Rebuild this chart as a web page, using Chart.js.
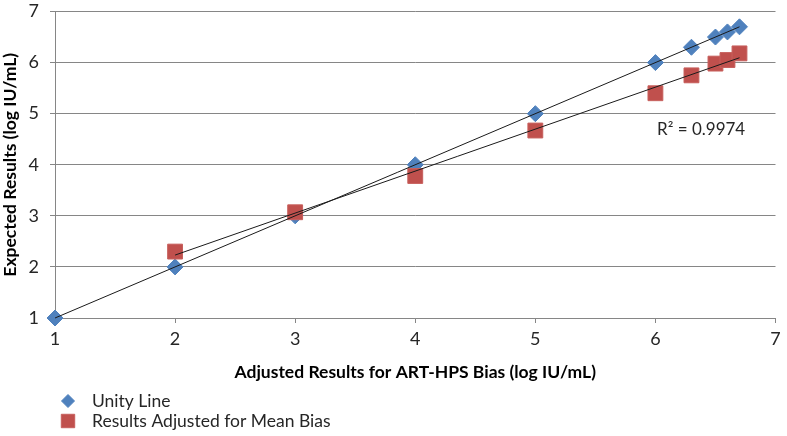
<!DOCTYPE html>
<html><head><meta charset="utf-8">
<script src="https://cdn.jsdelivr.net/npm/chart.js@4/dist/chart.umd.min.js"></script>
<style>html,body{margin:0;padding:0;background:#fff}#wrap{width:787px;height:436px}</style>
</head><body><div id="wrap"><canvas id="c" width="787" height="436"></canvas></div>
<script>
const unityX = [1, 2, 3, 4, 5, 6, 6.3, 6.5, 6.6, 6.7];
const unityY = [1, 2, 3, 4, 5, 6, 6.3, 6.5, 6.6, 6.7];
const biasX = [2, 3, 4, 5, 6, 6.3, 6.5, 6.6, 6.7];
const biasY = [2.3, 3.07, 3.78, 4.67, 5.4, 5.75, 5.98, 6.05, 6.18];
const seriesNames = ["Unity Line", "Results Adjusted for Mean Bias"];
const r2Label = "R² = 0.9974";
const axisTicks = [1, 2, 3, 4, 5, 6, 7];

function fit(xs, ys) {
  const n = xs.length;
  const mx = xs.reduce((a, b) => a + b, 0) / n;
  const my = ys.reduce((a, b) => a + b, 0) / n;
  let sxy = 0, sxx = 0;
  for (let i = 0; i < n; i++) { sxy += (xs[i] - mx) * (ys[i] - my); sxx += (xs[i] - mx) ** 2; }
  const m = sxy / sxx, b = my - m * mx;
  const x0 = Math.min(...xs), x1 = Math.max(...xs);
  return [{x: x0, y: m * x0 + b}, {x: x1, y: m * x1 + b}];
}
const pts = (xs, ys) => xs.map((x, i) => ({x, y: ys[i]}));

const BLUE = "#4F81BD", RED = "#C0504D";
const FONT = "Lato, 'Open Sans', sans-serif";

const legendPlugin = {
  id: "customLegend",
  afterDraw(chart) {
    const ctx = chart.ctx;
    ctx.save();
    ctx.fillStyle = "#262626";
    ctx.font = "17px " + FONT;
    ctx.textBaseline = "middle";
    ctx.textAlign = "left";
    ctx.fillText(r2Label, 657, 130);
    const items = [
      {style: "rectRot", color: BLUE, border: BLUE, r: 6.5, y: 401},
      {style: "rect", color: RED, border: "#C75F5C", r: 9.5, y: 421}
    ];
    items.forEach((it, i) => {
      ctx.fillStyle = it.color; ctx.strokeStyle = it.border; ctx.lineWidth = 1;
      Chart.helpers.drawPoint(ctx, {pointStyle: it.style, radius: it.r, borderWidth: 1, rotation: 0}, 68, it.y);
      ctx.fillStyle = "#262626";
      ctx.font = "17.5px " + FONT;
      ctx.fillText(seriesNames[i], 92, it.y);
    });
    ctx.restore();
  }
};

new Chart(document.getElementById("c"), {
  type: "scatter",
  data: {
    datasets: [
      {label: "trend1", data: fit(unityX, unityY), type: "line", showLine: true, borderColor: "#1a1a1a", borderWidth: 1, pointRadius: 0, order: 0, clip: false},
      {label: "trend2", data: fit(biasX, biasY), type: "line", showLine: true, borderColor: "#1a1a1a", borderWidth: 1, pointRadius: 0, order: 0, clip: false},
      {label: seriesNames[1], data: pts(biasX, biasY), pointStyle: "rect", pointRadius: 10.5, backgroundColor: RED, borderColor: "#C75F5C", borderWidth: 1, order: 1, clip: false},
      {label: seriesNames[0], data: pts(unityX, unityY), pointStyle: "rectRot", pointRadius: 8, backgroundColor: BLUE, borderColor: BLUE, borderWidth: 1, order: 2, clip: false}
    ]
  },
  options: {
    responsive: false,
    animation: false,
    layout: {padding: {top: 6, right: 11, bottom: 53, left: 0}},
    plugins: {legend: {display: false}, tooltip: {enabled: false}},
    scales: {
      x: {
        type: "linear", min: 1, max: 7,
        afterBuildTicks: s => { s.ticks = axisTicks.map(v => ({value: v})); },
        afterFit: s => { s.height = 65; s.paddingRight = 0; s.paddingLeft = 0; },
        grid: {drawOnChartArea: false, drawTicks: true, tickLength: 5, color: "#868686"},
        border: {color: "#868686", width: 1},
        ticks: {font: {family: FONT, size: 18}, color: "#262626", padding: 5},
        title: {display: true, text: "Adjusted Results for ART-HPS Bias (log IU/mL)", font: {family: FONT, size: 17.5, weight: "bold"}, color: "#000", padding: {top: 4, bottom: 0}}
      },
      y: {
        type: "linear", min: 1, max: 7,
        afterBuildTicks: s => { s.ticks = axisTicks.map(v => ({value: v})); },
        afterFit: s => { s.width = 55; s.paddingTop = 0; s.paddingBottom = 0; },
        grid: {color: "#868686", drawTicks: true, tickLength: 5},
        border: {color: "#868686", width: 1},
        ticks: {font: {family: FONT, size: 18}, color: "#262626", padding: 11},
        title: {display: true, text: "Expected Results (log IU/mL)", font: {family: FONT, size: 17.5, weight: "bold"}, color: "#000", padding: {top: 0, bottom: 3}}
      }
    }
  },
  plugins: [legendPlugin]
});
</script>
</body></html>
